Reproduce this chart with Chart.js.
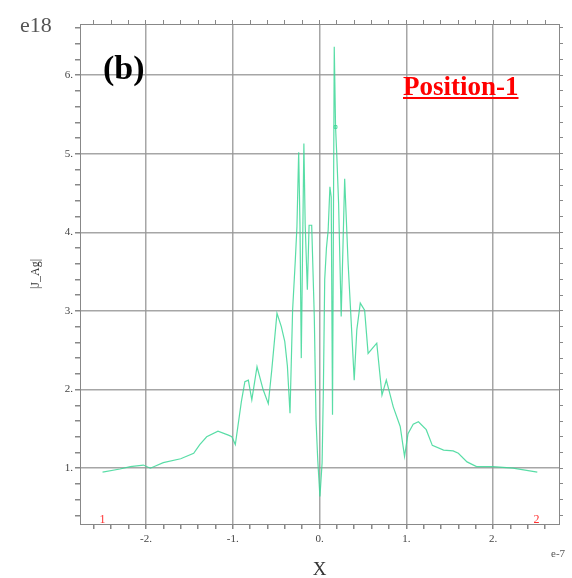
<!DOCTYPE html>
<html>
<head>
<meta charset="utf-8">
<script src="https://cdn.jsdelivr.net/npm/chart.js@4/dist/chart.umd.min.js"></script>
<style>
  body { margin: 0; background: #fff; }
  canvas { display: block; }
</style>
</head>
<body>
<canvas id="jagChart" width="572" height="578"></canvas>
<script>
// x in units of 1e-7, |J_Ag| in units of 1e18
const xValues = [
  -2.50, -2.30, -2.18, -2.03, -1.95, -1.80, -1.60, -1.45, -1.38, -1.30,
  -1.17, -1.05, -1.01, -0.97, -0.90, -0.86, -0.82, -0.78, -0.72, -0.65,
  -0.59, -0.55, -0.49, -0.44, -0.40, -0.37, -0.34, -0.31, -0.28, -0.26,
  -0.24, -0.225, -0.21, -0.18, -0.165, -0.14, -0.12, -0.09, -0.06, -0.04,
  -0.02, 0.005, 0.03, 0.045, 0.06, 0.08, 0.10, 0.12, 0.135, 0.15,
  0.17, 0.185, 0.20, 0.22, 0.25, 0.29, 0.33, 0.37, 0.40, 0.43,
  0.47, 0.52, 0.56, 0.66, 0.72, 0.77, 0.85, 0.93, 0.98, 1.02,
  1.08, 1.14, 1.23, 1.30, 1.43, 1.54, 1.60, 1.70, 1.81, 2.00,
  2.23, 2.51
];
const jValues = [
  0.95, 0.99, 1.02, 1.04, 1.00, 1.07, 1.12, 1.19, 1.30, 1.40,
  1.47, 1.42, 1.40, 1.30, 1.85, 2.10, 2.12, 1.87, 2.29, 2.00,
  1.82, 2.25, 2.97, 2.80, 2.61, 2.30, 1.70, 3.01, 3.62, 4.07,
  5.02, 4.10, 2.40, 5.13, 4.10, 3.27, 4.09, 4.09, 2.93, 1.61,
  1.10, 0.64, 1.07, 2.02, 3.40, 3.80, 4.03, 4.58, 4.45, 1.68,
  6.36, 5.34, 4.96, 4.37, 2.93, 4.68, 3.60, 2.76, 2.12, 2.76,
  3.10, 3.01, 2.46, 2.59, 1.93, 2.12, 1.78, 1.53, 1.15, 1.44,
  1.56, 1.59, 1.49, 1.29, 1.23, 1.22, 1.19, 1.08, 1.02, 1.02,
  1.00, 0.95
];

// small probe marker on the main peak
const markerX = [0.185];
const markerY = [5.34];

// end point labels of the line
const endLabels = ['1', '2'];
const endLabelX = [-2.5, 2.5];

const xRange = [-2.76, 2.76];
const yRange = [0.29, 6.65];

const gridGray = 'rgba(150,150,150,0.85)';
const tickGray = '#888';
const labelGray = '#444';

const isMajor = v => Math.abs(v - Math.round(v)) < 1e-6;

// Text annotations drawn on top
const jagAnnotations = {
  id: 'jagAnnotations',
  afterDraw(chart) {
    const ctx = chart.ctx;
    const xs = chart.scales.x;
    const area = chart.chartArea;
    ctx.save();

    // exponent labels
    ctx.fillStyle = '#555';
    ctx.font = '22px "Liberation Serif", serif';
    ctx.textAlign = 'left';
    ctx.textBaseline = 'alphabetic';
    ctx.fillText('e18', 20, 32);
    ctx.font = '11px "Liberation Serif", serif';
    ctx.fillText('e-7', area.right - 8, 557);

    // axis titles
    ctx.fillStyle = '#333';
    ctx.font = '19px "Liberation Serif", serif';
    ctx.textAlign = 'center';
    ctx.fillText('X', (area.left + area.right) / 2, 575);
    ctx.save();
    ctx.translate(39, (area.top + area.bottom) / 2);
    ctx.rotate(-Math.PI / 2);
    ctx.font = '12px "Liberation Serif", serif';
    ctx.fillText('|J_Ag|', 0, 0);
    ctx.restore();

    // end point labels
    ctx.fillStyle = '#ff3030';
    ctx.font = '12px "Liberation Serif", serif';
    endLabels.forEach((t, i) => {
      ctx.fillText(t, xs.getPixelForValue(endLabelX[i]), area.bottom - 1);
    });

    // panel label
    ctx.fillStyle = '#000';
    ctx.font = 'bold 34px "Liberation Serif", serif';
    ctx.textAlign = 'left';
    ctx.fillText('(b)', 103, 79);

    // position label, underlined
    ctx.fillStyle = '#ff0000';
    ctx.font = 'bold 27px "Liberation Serif", serif';
    const txt = 'Position-1';
    const w = ctx.measureText(txt).width;
    ctx.fillText(txt, 403, 95);
    ctx.fillRect(403, 97, w, 2);

    ctx.restore();
  }
};

const jagConfig = {
  type: 'scatter',
  data: {
    datasets: [{
      label: '|J_Ag|',
      data: xValues.map((x, i) => ({ x: x, y: jValues[i] })),
      showLine: true,
      borderColor: 'rgba(60,215,150,0.85)',
      borderWidth: 1.2,
      pointRadius: 0,
      tension: 0
    }, {
      label: 'marker',
      data: markerX.map((x, i) => ({ x: x, y: markerY[i] })),
      pointStyle: 'rect',
      pointRadius: 2,
      borderColor: 'rgba(60,215,150,0.9)',
      backgroundColor: 'rgba(255,255,255,0)',
      borderWidth: 1
    }]
  },
  options: {
    responsive: false,
    animation: false,
    devicePixelRatio: 1,
    layout: { padding: 0 },
    plugins: {
      legend: { display: false },
      tooltip: { enabled: false }
    },
    scales: {
      x: {
        type: 'linear',
        position: 'bottom',
        min: xRange[0],
        max: xRange[1],
        afterFit: s => { s.height = 54; },
        border: { color: tickGray, width: 1 },
        grid: {
          color: c => isMajor(c.tick.value) ? gridGray : 'rgba(0,0,0,0)',
          tickColor: tickGray,
          lineWidth: 1.5,
          tickLength: 5
        },
        ticks: {
          stepSize: 0.2,
          includeBounds: false,
          autoSkip: false,
          maxRotation: 0,
          padding: 4,
          color: labelGray,
          font: { family: '"Liberation Serif", serif', size: 11 },
          callback: v => isMajor(v) ? Math.round(v) + '.' : ''
        }
      },
      xTop: {
        type: 'linear',
        position: 'top',
        min: xRange[0],
        max: xRange[1],
        afterFit: s => { s.height = 24; },
        border: { color: tickGray, width: 1 },
        grid: { drawOnChartArea: false, tickColor: tickGray, tickLength: 4 },
        ticks: { stepSize: 0.2, includeBounds: false, autoSkip: false, callback: () => '' }
      },
      y: {
        type: 'linear',
        position: 'left',
        min: yRange[0],
        max: yRange[1],
        afterFit: s => { s.width = 80; },
        border: { color: tickGray, width: 1 },
        grid: {
          color: c => isMajor(c.tick.value) ? gridGray : 'rgba(0,0,0,0)',
          tickColor: tickGray,
          lineWidth: 1.5,
          tickLength: 5
        },
        ticks: {
          stepSize: 0.2,
          includeBounds: false,
          autoSkip: false,
          padding: 2,
          color: labelGray,
          font: { family: '"Liberation Serif", serif', size: 11 },
          callback: v => isMajor(v) ? Math.round(v) + '.' : ''
        }
      },
      yRight: {
        type: 'linear',
        position: 'right',
        min: yRange[0],
        max: yRange[1],
        afterFit: s => { s.width = 13; },
        border: { color: tickGray, width: 1 },
        grid: { drawOnChartArea: false, tickColor: tickGray, tickLength: 4 },
        ticks: { stepSize: 0.2, includeBounds: false, autoSkip: false, callback: () => '' }
      }
    }
  },
  plugins: [jagAnnotations]
};

const jagChart = new Chart(
  document.getElementById('jagChart'),
  jagConfig
);
</script>
</body>
</html>
